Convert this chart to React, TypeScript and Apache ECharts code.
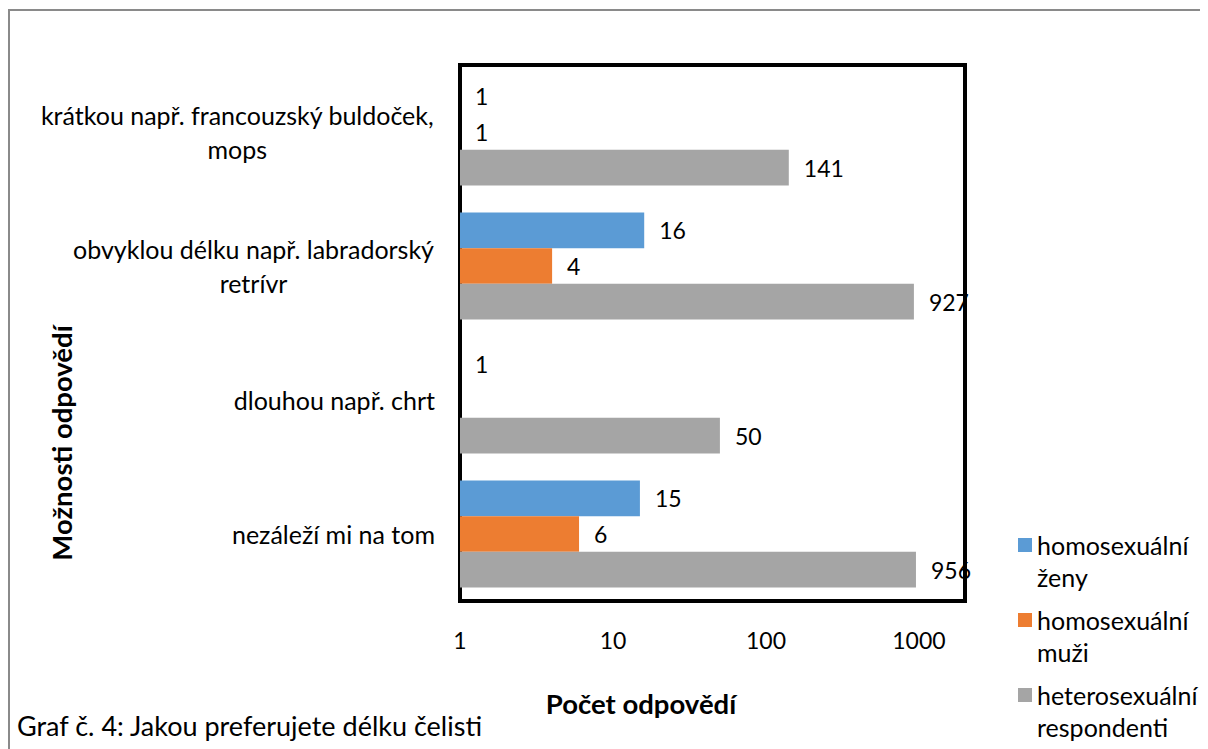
import React, { useEffect, useRef } from "react";
import * as echarts from "echarts";

const categoryLines: string[][] = [
  ["krátkou např. francouzský buldoček,", "mops"],
  ["obvyklou délku např. labradorský", "retrívr"],
  ["dlouhou např. chrt"],
  ["nezáleží mi na tom"],
];
const categories = categoryLines.map((l) => l.join(" "));
const seriesNames = ["homosexuální ženy", "homosexuální muži", "heterosexuální respondenti"];
const zeny: (number | null)[] = [1, 16, 1, 15];
const muzi: (number | null)[] = [1, 4, null, 6];
const hetero: (number | null)[] = [141, 927, 50, 956];
const colors = ["#5B9BD5", "#ED7D31", "#A5A5A5"];
const legendLines: string[][] = [
  ["homosexuální", "ženy"],
  ["homosexuální", "muži"],
  ["heterosexuální", "respondenti"],
];

const FONT = "Lato";
const FS = 23; // tick + data labels
const CFS = 25; // category + legend
const TFS = 27.5; // axis titles
const CAPFS = 27; // caption

function measure(text: string, size: number, weight = "normal"): number {
  const c = document.createElement("canvas").getContext("2d");
  if (!c) return text.length * size * 0.5;
  c.font = `${weight} ${size}px ${FONT}`;
  return c.measureText(text).width;
}

export default function App() {
  const ref = useRef<HTMLDivElement>(null);
  useEffect(() => {
    if (!ref.current) return;
    const chart = echarts.init(ref.current, undefined, { renderer: "svg" });
    const rich: Record<string, any> = {
      s: { fontFamily: FONT, fontSize: CFS, color: "#000", lineHeight: 34 },
    };
    categoryLines.forEach((lines, i) => {
      const w = Math.max(...lines.map((l) => measure(l, CFS))) + 2;
      rich["w" + i] = { fontFamily: FONT, fontSize: CFS, color: "#000", lineHeight: 34, width: w, align: "center" };
    });
    const dataSets = [zeny, muzi, hetero];
    const legendTops = [484, 559, 634];
    const legendRich = {
      p: { fontFamily: FONT, fontSize: CFS, lineHeight: 32, color: "#000" },
      a: { fontFamily: FONT, fontSize: CFS, lineHeight: 32, color: "#000" },
    };
    const option: any = {
      animation: false,
      textStyle: { fontFamily: FONT },
      grid: {
        left: 452,
        right: 243,
        top: 57,
        bottom: 148,
        show: true,
        borderColor: "#000",
        borderWidth: 4,
        backgroundColor: "transparent",
      },
      xAxis: {
        type: "log",
        logBase: 10,
        min: 1,
        max: 2000,
        axisLine: { show: false },
        axisTick: { show: false },
        splitLine: { show: false },
        axisLabel: {
          fontFamily: FONT,
          fontSize: FS,
          color: "#000",
          margin: 27,
          showMaxLabel: false,
          formatter: (v: number) => {
            const l = Math.log10(v);
            return Math.abs(l - Math.round(l)) < 1e-6 ? String(Math.round(v)) : "";
          },
        },
      },
      yAxis: {
        type: "category",
        inverse: true,
        data: categories,
        axisLine: { show: false },
        axisTick: { show: false },
        splitLine: { show: false },
        axisLabel: {
          margin: 25,
          formatter: (_v: string, idx: number) => {
            const lines = categoryLines[idx];
            if (lines.length === 1) return `{s|${lines[0]}}`;
            return lines.map((l) => `{w${idx}|${l}}`).join("\n");
          },
          rich,
        },
      },
      legend: seriesNames.map((n, i) => ({
        data: [n],
        orient: "vertical",
        left: 1005,
        top: legendTops[i],
        icon: "rect",
        itemWidth: 14,
        itemHeight: 14,
        selectedMode: false,
        formatter: () => `{p| }\n` + legendLines[i].map((l) => `{a|${l}}`).join("\n"),
        textStyle: {
          fontFamily: FONT,
          fontSize: CFS,
          color: "#000",
          lineHeight: 32,
          rich: legendRich,
        },
      })),
      series: seriesNames.map((n, i) => ({
        name: n,
        type: "bar",
        data: dataSets[i],
        barGap: "0%",
        barCategoryGap: "20%",
        itemStyle: { color: colors[i] },
        label: {
          show: true,
          position: "right",
          distance: 15,
          fontFamily: FONT,
          fontSize: FS,
          color: "#000",
        },
      })),
      graphic: [
        {
          type: "rect",
          silent: true,
          shape: { x: 1, y: 2, width: 3000, height: 3000 },
          style: { fill: "none", stroke: "#8a8a8a", lineWidth: 2 },
        },
        {
          type: "text",
          x: 53,
          y: 435,
          rotation: Math.PI / 2,
          style: {
            text: "Možnosti odpovědí",
            fontFamily: FONT,
            fontSize: TFS,
            fontWeight: "bold",
            fill: "#000",
            align: "center",
            verticalAlign: "middle",
          },
        },
        {
          type: "text",
          x: 633,
          y: 695,
          style: {
            text: "Počet odpovědí",
            fontFamily: FONT,
            fontSize: TFS,
            fontWeight: "bold",
            fill: "#000",
            align: "center",
            verticalAlign: "middle",
          },
        },
        {
          type: "text",
          x: 9,
          y: 717,
          style: {
            text: "Graf č. 4: Jakou preferujete délku čelisti",
            fontFamily: FONT,
            fontSize: CAPFS,
            fill: "#000",
            align: "left",
            verticalAlign: "middle",
          },
        },
      ],
    };
    chart.setOption(option);
    return () => chart.dispose();
  }, []);
  return <div ref={ref} style={{ width: 1200, height: 741 }} />;
}
